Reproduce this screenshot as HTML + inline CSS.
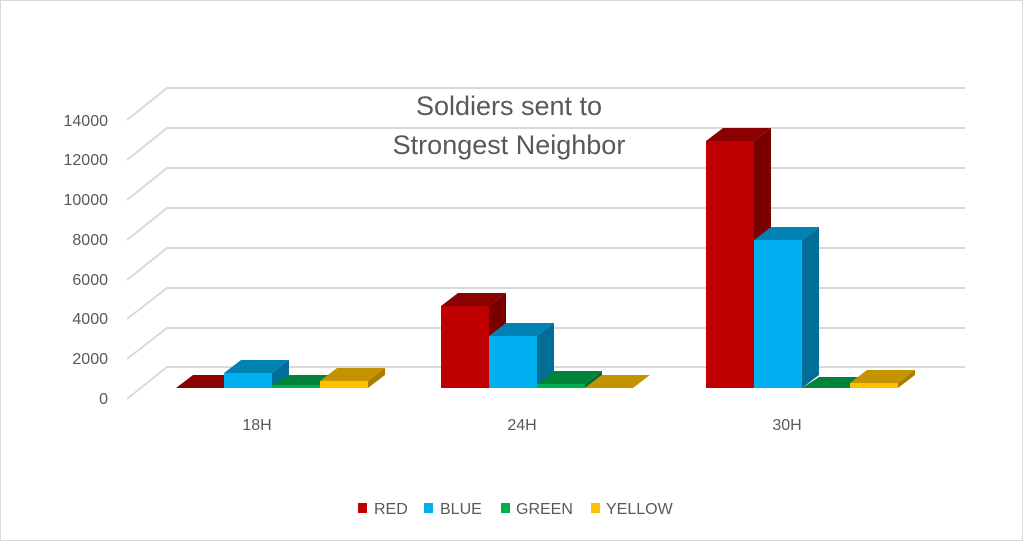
<!DOCTYPE html>
<html><head><style>
body{margin:0;background:#fff;}
svg{display:block;font-family:"Liberation Sans",sans-serif;}
</style></head><body>
<svg width="1023" height="541" xmlns="http://www.w3.org/2000/svg">
<rect x="0.5" y="0.5" width="1022" height="540" fill="#fff" stroke="#d9d9d9"/>
<g stroke="#d9d9d9" stroke-width="2" fill="none">
<path d="M127 120 L167 88 H965"/>
<path d="M127 160 L167 128 H965"/>
<path d="M127 200 L167 168 H965"/>
<path d="M127 240 L167 208 H965"/>
<path d="M127 280 L167 248 H965"/>
<path d="M127 319 L167 288 H965"/>
<path d="M127 359 L167 328 H965"/>
<path d="M127 399 L167 367 H965"/>
</g>
<g fill="#595959" font-size="16" text-anchor="end">
<text x="108" y="126">14000</text>
<text x="108" y="165">12000</text>
<text x="108" y="205">10000</text>
<text x="108" y="245">8000</text>
<text x="108" y="285">6000</text>
<text x="108" y="324">4000</text>
<text x="108" y="364">2000</text>
<text x="108" y="404">0</text>
</g>
<text x="509" y="115" fill="#595959" font-size="27" text-anchor="middle">Soldiers sent to</text>
<text x="509" y="154" fill="#595959" font-size="27" text-anchor="middle">Strongest Neighbor</text>
<!-- 18H -->
<polygon points="176,388 193,375 241,375 224,388" fill="#8B0000"/>
<rect x="224" y="373" width="48" height="15" fill="#00B0F0"/>
<polygon points="224,373 241,360 289,360 272,373" fill="#0083B3"/>
<polygon points="272,373 289,360 289,375 272,388" fill="#006E96"/>
<rect x="272" y="385" width="48" height="3" fill="#00B050"/>
<polygon points="272,385 289,375 337,375 320,385" fill="#00843C"/>
<rect x="320" y="381" width="48" height="7" fill="#FFC000"/>
<polygon points="320,381 337,368 385,368 368,381" fill="#C49300"/>
<polygon points="368,381 385,368 385,375 368,388" fill="#A87E00"/>
<!-- 24H -->
<rect x="441" y="306" width="48" height="82" fill="#C00000"/>
<polygon points="441,306 458,293 506,293 489,306" fill="#8B0000"/>
<polygon points="489,306 506,293 506,375 489,388" fill="#7A0000"/>
<rect x="489" y="336" width="48" height="52" fill="#00B0F0"/>
<polygon points="489,336 506,323 554,323 537,336" fill="#0083B3"/>
<polygon points="537,336 554,323 554,375 537,388" fill="#006E96"/>
<rect x="537" y="384" width="48" height="4" fill="#00B050"/>
<polygon points="537,384 554,371 602,371 585,384" fill="#00843C"/>
<polygon points="585,384 602,371 602,375 585,388" fill="#006E32"/>
<polygon points="585,388 602,375 650,375 633,388" fill="#C49300"/>
<!-- 30H -->
<rect x="706" y="141" width="48" height="247" fill="#C00000"/>
<polygon points="706,141 723,128 771,128 754,141" fill="#8B0000"/>
<polygon points="754,141 771,128 771,375 754,388" fill="#7A0000"/>
<rect x="754" y="240" width="48" height="148" fill="#00B0F0"/>
<polygon points="754,240 771,227 819,227 802,240" fill="#0083B3"/>
<polygon points="802,240 819,227 819,375 802,388" fill="#006E96"/>
<polygon points="802,388 819,377 867,377 850,388" fill="#00843C"/>
<rect x="850" y="383" width="48" height="5" fill="#FFC000"/>
<polygon points="850,383 867,370 915,370 898,383" fill="#C49300"/>
<polygon points="898,383 915,370 915,375 898,388" fill="#A87E00"/>
<g fill="#595959" font-size="16" text-anchor="middle">
<text x="257" y="430">18H</text>
<text x="522" y="430">24H</text>
<text x="787" y="430">30H</text>
</g>
<g font-size="16" fill="#595959">
<rect x="358" y="503" width="9" height="10" fill="#C00000"/><text x="374" y="514">RED</text>
<rect x="424" y="503" width="9" height="10" fill="#00B0F0"/><text x="440" y="514">BLUE</text>
<rect x="501" y="503" width="9" height="10" fill="#00B050"/><text x="516" y="514">GREEN</text>
<rect x="591" y="503" width="9" height="10" fill="#FFC000"/><text x="606" y="514">YELLOW</text>
</g>
</svg>
</body></html>
